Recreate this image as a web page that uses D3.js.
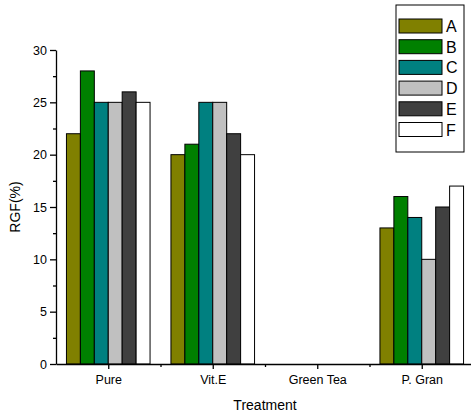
<!DOCTYPE html>
<meta charset="utf-8">
<style>
body { margin: 0; background: #fff; }
text { font-family: "Liberation Sans", Arial, sans-serif; fill: #000; }
.axis path, .axis line { stroke: #000; stroke-width: 1.3px; }
</style>
<svg width="471" height="416"></svg>
<script src="https://d3js.org/d3.v7.min.js"></script>
<script>

var categories = ["Pure", "Vit.E", "Green Tea", "P. Gran"];
var seriesNames = ["A", "B", "C", "D", "E", "F"];
var seriesColors = ["#808000", "#008000", "#008080", "#c0c0c0", "#404040", "#ffffff"];
var valuesA = [22, 20, 0, 13];
var valuesB = [28, 21, 0, 16];
var valuesC = [25, 25, 0, 14];
var valuesD = [25, 25, 0, 10];
var valuesE = [26, 22, 0, 15];
var valuesF = [25, 20, 0, 17];
var yTicks = [0, 5, 10, 15, 20, 25, 30];

var allValues = [valuesA, valuesB, valuesC, valuesD, valuesE, valuesF];

var svg = d3.select("svg");
var plotLeft = 56, plotRight = 474, plotTop = 50, plotBottom = 364;

// categories sit at 1..4, axis from 0.5 to 4.5 (like Origin)
var x = d3.scaleLinear().domain([0.5, 4.5]).range([plotLeft, plotRight]);
var y = d3.scaleLinear().domain([0, 30]).range([plotBottom, plotTop]);

var step = x(2) - x(1);
var groupW = step * 0.8;
var barW = groupW / seriesNames.length;

// bars
allValues.forEach(function(vals, s) {
  svg.append("g").selectAll("rect")
    .data(vals)
    .enter().append("rect")
    .attr("x", function(d, i) { return x(i + 1) - groupW / 2 + s * barW; })
    .attr("y", function(d) { return y(d); })
    .attr("width", barW)
    .attr("height", function(d) { return plotBottom - y(d); })
    .attr("fill", seriesColors[s])
    .attr("stroke", "#000")
    .attr("stroke-width", 1);
});

// y axis
var yAxis = svg.append("g").attr("class", "axis")
  .attr("transform", "translate(" + plotLeft + ",0)")
  .call(d3.axisLeft(y).tickValues(yTicks).tickSize(6).tickPadding(3).tickSizeOuter(0));
yAxis.selectAll("text").style("font-size", "12.5px");
svg.append("g").attr("class", "axis")
  .attr("transform", "translate(" + plotLeft + ",0)")
  .call(d3.axisLeft(y).tickValues(d3.range(2.5, 30, 5)).tickSize(3).tickFormat("").tickSizeOuter(0))
  .select("path").remove();

// x axis
var xAxis = svg.append("g").attr("class", "axis")
  .attr("transform", "translate(0," + plotBottom + ")")
  .call(d3.axisBottom(x).tickValues([1, 2, 3, 4]).tickSize(5).tickPadding(6).tickSizeOuter(0)
    .tickFormat(function(d) { return categories[d - 1]; }));
xAxis.selectAll("text").style("font-size", "12.5px");
svg.append("g").attr("class", "axis")
  .attr("transform", "translate(0," + plotBottom + ")")
  .call(d3.axisBottom(x).tickValues([1.5, 2.5, 3.5]).tickSize(3).tickFormat("").tickSizeOuter(0))
  .select("path").remove();

// axis titles
svg.append("text")
  .attr("x", (plotLeft + plotRight) / 2)
  .attr("y", 410)
  .attr("text-anchor", "middle")
  .style("font-size", "14px")
  .text("Treatment");

svg.append("text")
  .attr("transform", "translate(20," + (plotTop + plotBottom) / 2 + ") rotate(-90)")
  .attr("text-anchor", "middle")
  .style("font-size", "14px")
  .text("RGF(%)");

// legend
var legend = svg.append("g");
legend.append("rect")
  .attr("x", 396).attr("y", 5)
  .attr("width", 68).attr("height", 147)
  .attr("fill", "#fff").attr("stroke", "#000").attr("stroke-width", 1);
seriesNames.forEach(function(name, i) {
  var ly = 19 + i * 20.7;
  legend.append("rect")
    .attr("x", 399).attr("y", ly)
    .attr("width", 43).attr("height", 14)
    .attr("fill", seriesColors[i]).attr("stroke", "#000").attr("stroke-width", 1);
  legend.append("text")
    .attr("x", 446).attr("y", ly + 13)
    .style("font-size", "16px")
    .text(name);
});

</script>
